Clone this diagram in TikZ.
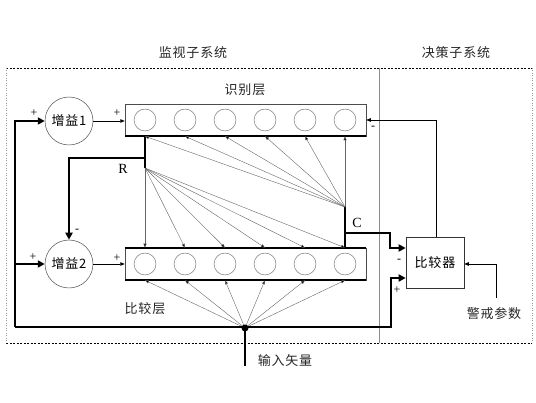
\documentclass[tikz,border=0pt]{standalone}
\usepackage{fontspec}
\setmainfont{Liberation Serif}
\newfontfamily\cjk[LetterSpace=6]{Noto Sans CJK SC}
\usetikzlibrary{arrows.meta,calc}
\begin{document}
\begin{tikzpicture}[x=1pt,y=-1pt,
  txt/.style={inner sep=0pt,font=\cjk\fontsize{13}{14}\selectfont,text=black!85},
  lat/.style={inner sep=0pt,font=\fontsize{14}{15}\selectfont},
  sgn/.style={inner sep=0pt,font=\fontsize{12}{12}\selectfont},
  layerbox/.style={draw=black!70,line width=0.5pt,minimum width=241pt,minimum height=32pt,inner sep=0pt},
  neuron/.style={draw=black!60,circle,line width=0.4pt,minimum size=22pt,inner sep=0pt},
  gain/.style={draw=black!70,circle,line width=0.5pt,minimum size=48pt,inner sep=0pt,font=\cjk\fontsize{13}{14}\selectfont},
  thk/.style={line width=2.4pt},
  thkarrow/.style={line width=2.4pt,-{Triangle[length=7pt,width=7pt]}},
  thn/.style={line width=0.4pt,draw=black!60,-{Triangle[length=4pt,width=3pt,fill=black]}},
  mid/.style={line width=0.6pt,-{Triangle[length=4.5pt,width=3.5pt]}}]
\useasboundingbox (0,0) rectangle (536,403);
% subsystem frames
\draw[dashed,line width=0.5pt,dash pattern=on 2pt off 1.5pt] (6,68) -- (532,68);
\draw[dashed,line width=0.5pt,dash pattern=on 2pt off 1.5pt] (6,343) -- (532,343);
\draw[black!40,dotted,line width=0.5pt] (6,68) -- (6,343);
\draw[black!40,dotted,line width=0.5pt] (532,68) -- (532,343);
\draw[black!45,line width=0.8pt] (379,68) -- (379,343);
\node[txt] (tmon) at (193,53) {监视子系统};
\node[txt] (tdec) at (456,53) {决策子系统};
% layers
\node[layerbox] (T) at (245.5,120) {};
\node[layerbox] (B) at (245.5,264) {};
\foreach \i in {1,...,6}{
  \node[neuron] (t\i) at ({145+40*(\i-1)},120) {};
  \node[neuron] (b\i) at ({145+40*(\i-1)},264) {};
}
\draw[line width=1.6pt] (T.south west) -- (T.south east);
\draw[line width=1.6pt] (B.north west) -- (B.north east);
\draw[line width=1.6pt] (B.south west) -- (B.south east);
\node[txt] (lrec) at (245,90) {识别层};
\node[txt] (lcmp) at (145,309) {比较层};
% gains
\node[gain] (g1) at (69,121) {增益1};
\node[gain] (g2) at (69,264) {增益2};
% comparator
\node[draw=black!80,line width=0.6pt,minimum width=58pt,minimum height=51pt,inner sep=0pt,font=\cjk\fontsize{13}{14}\selectfont] (cmp) at (435,262.5) {比较器};
\node[txt] (alarm) at (494,314) {警戒参数};
% key points
\coordinate (R) at (145,168);
\coordinate (Rk) at (145,158);
\coordinate (Rg) at (69,158);
\coordinate (C) at (345,207);
\coordinate (Ck) at (345,233);
\coordinate (Cr) at (390,233);
\coordinate (Cd) at (390,248);
\coordinate (in) at (245,328);
\coordinate (inEnd) at (245,366);
\coordinate (LT) at (15,121);
\coordinate (LM) at (15,264);
\coordinate (LB) at (15,327);
\coordinate (RB) at (391,327);
\coordinate (RU) at (391,278);
\coordinate (fbT) at (436,120);
\coordinate (alB) at (496,298);
\coordinate (alT) at (496,264);
% R path
\draw[thk] (t1 |- T.south) -- (R);
\draw[thkarrow] (Rk) -- (Rg) -- (g2.north);
\node[lat] (lR) at (123,169) {R};
% C path
\draw[thk] (C) -- (b6 |- B.north);
\draw[thkarrow] (Ck) -- (Cr) -- (Cd) -- (Cd -| cmp.west);
\node[lat] (lC) at (357,223) {C};
% fan-out arrows
\foreach \i in {1,...,6}{
  \draw[thn] (R) -- (b\i |- B.north);
  \draw[thn] (C) -- (t\i |- T.south);
  \draw[thn] (in) -- (b\i |- B.south);
}
% input
\draw[thk] (inEnd) -- (in);
\fill (in) circle (3.5pt);
\node[txt] (linput) at (285,361) {输入矢量};
% left loop
\draw[thkarrow] (LB) -- (LT) -- (g1.west);
\draw[thkarrow] (LM) -- (g2.west);
\draw[thkarrow] (LB) -- (RB) -- (RU) -- (RU -| cmp.west);
% gain to layer
\draw[mid] (g1.east) -- (g1.east -| T.west);
\draw[mid] (g2.east) -- (g2.east -| B.west);
% feedback from comparator
\draw[mid] (cmp.north -| fbT) -- (fbT) -- (fbT -| T.east);
\draw[mid] (alB) -- (alT) -- (alT -| cmp.east);
% signs
\node[sgn] (s1) at (34,113) {+};
\node[sgn] (s2) at (117,113) {+};
\node[sgn] (s3) at (77,231) {-};
\node[sgn] (s4) at (33,257) {+};
\node[sgn] (s5) at (117,258) {+};
\node[sgn] (s6) at (373,128) {-};
\node[sgn] (s7) at (399,261) {-};
\node[sgn] (s8) at (397,290) {+};
\end{tikzpicture}
\end{document}
